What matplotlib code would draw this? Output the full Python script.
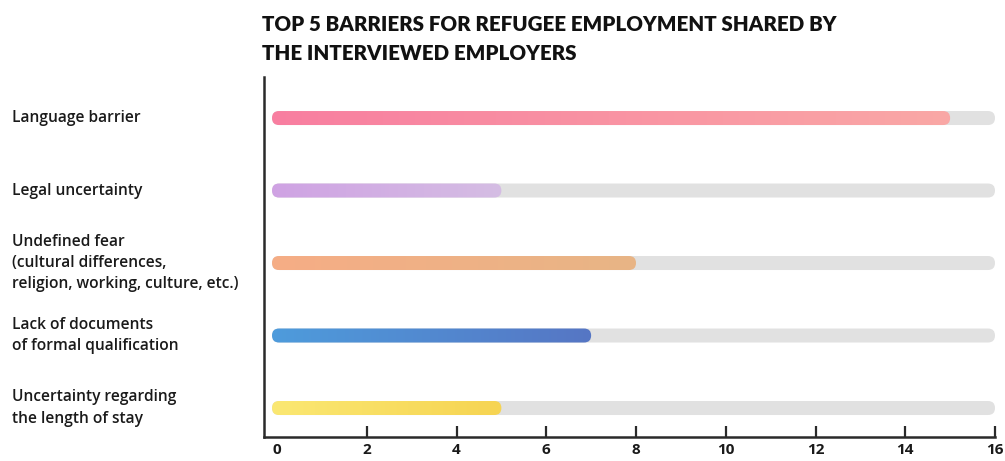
import numpy as np
import matplotlib
matplotlib.use("Agg")
import matplotlib.pyplot as plt
from matplotlib.patches import FancyBboxPatch
from matplotlib.transforms import IdentityTransform, blended_transform_factory
from matplotlib.colors import to_rgb

# ---- data ----
categories = [
    "Language barrier",
    "Legal uncertainty",
    "Undefined fear\n(cultural differences,\nreligion, working, culture, etc.)",
    "Lack of documents\nof formal qualification",
    "Uncertainty regarding\nthe length of stay",
]
values = [15, 5, 8, 7, 5]
max_value = 16
xticks = [0, 2, 4, 6, 8, 10, 12, 14, 16]
grad_start = ["#F87EA0", "#CFA2E3", "#F6AD86", "#4E9CDC", "#FBE873"]
grad_end = ["#FAA8A6", "#D5BDE4", "#E8B585", "#5676C4", "#F6D452"]
title = "TOP 5 BARRIERS FOR REFUGEE EMPLOYMENT SHARED BY\nTHE INTERVIEWED EMPLOYERS"

W, H = 1005, 461
fig = plt.figure(figsize=(W / 100, H / 100), dpi=100)
ax = fig.add_axes([264 / W, 24 / H, (995 - 264) / W, (384 - 24) / H])
n = len(categories)
ypos = np.arange(n)[::-1]
ax.set_xlim(-0.29, 16)
ax.set_ylim(-0.4, n - 1 + 0.566)

for s in ["top", "right"]:
    ax.spines[s].set_visible(False)
for s in ["left", "bottom"]:
    ax.spines[s].set_linewidth(1.8)
    ax.spines[s].set_color("#2a2a2a")
ax.set_yticks([])
ax.set_xticks(xticks)
ax.set_xticklabels([str(t) for t in xticks], fontfamily="Open Sans", fontweight="bold",
                   fontsize=11, color="#1a1a1a")
ax.tick_params(axis="x", direction="in", length=8, width=1.6, color="#2a2a2a", pad=4)
ax.xaxis.get_major_ticks()[0].tick1line.set_visible(False)

fig.canvas.draw()
tr = ax.transData
bar_h = 14
cap = 7

def rounded(x0p, x1p, yp, color=None):
    p = FancyBboxPatch((x0p, yp - bar_h / 2), x1p - x0p, bar_h,
                       boxstyle=f"round,pad=0,rounding_size={cap}",
                       transform=IdentityTransform(), linewidth=0,
                       facecolor=color if color else "none")
    return p

for i, (y, v) in enumerate(zip(ypos, values)):
    x0p, yp = tr.transform((0, y))
    x0p -= 5
    xvp, _ = tr.transform((v, y))
    xmp, _ = tr.transform((max_value, y))
    bg = rounded(x0p, xmp, yp, "#E1E1E1")
    ax.add_patch(bg)
    clip = rounded(x0p, xvp, yp)
    ax.add_patch(clip)
    c0 = np.array(to_rgb(grad_start[i]))
    c1 = np.array(to_rgb(grad_end[i]))
    t = np.linspace(0, 1, 256)[None, :, None]
    img = c0 + (c1 - c0) * t
    im = ax.imshow(img, extent=[-0.2, v, y - 0.15, y + 0.15], aspect="auto",
                   interpolation="bilinear", zorder=3)
    im.set_clip_path(clip)

ax.set_xlim(-0.29, 16)
ax.set_ylim(-0.4, n - 1 + 0.566)

lab_tr = blended_transform_factory(fig.transFigure, ax.transData)
for y, lab in zip(ypos, categories):
    fig.text(12 / W, y, lab, transform=lab_tr, ha="left", va="center",
             fontfamily="Open Sans", fontweight="semibold", fontsize=11.2,
             color="#1a1a1a", linespacing=1.45)

fig.text(262 / W, 1 - 15 / H, title, ha="left", va="top", fontfamily="Lato",
         fontweight="heavy", fontsize=14.8, color="#111111", linespacing=1.6)

fig.savefig("out.png", dpi=100)
